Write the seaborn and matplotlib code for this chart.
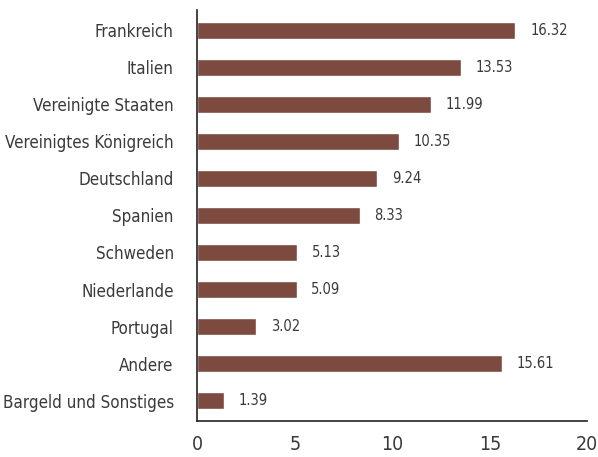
import pandas as pd
import matplotlib.pyplot as plt
import seaborn as sns

# data
countries = ['Frankreich', 'Italien', 'Vereinigte Staaten', 'Vereinigtes Königreich',
             'Deutschland', 'Spanien', 'Schweden', 'Niederlande', 'Portugal',
             'Andere', 'Bargeld und Sonstiges']
values = [16.32, 13.53, 11.99, 10.35, 9.24, 8.33, 5.13, 5.09, 3.02, 15.61, 1.39]
xticks = [0, 5, 10, 15, 20]

df = pd.DataFrame({'land': countries, 'wert': values})

sns.set_style('white')
plt.rcParams['font.family'] = ['DejaVu Sans']
plt.rcParams['font.stretch'] = 'condensed'
text_color = '#3a3a3a'

fig, ax = plt.subplots(figsize=(5.98, 4.57), dpi=100)
fig.subplots_adjust(left=0.33, right=0.982, top=0.978, bottom=0.079)

sns.barplot(data=df, x='wert', y='land', color='#7d4a40', width=0.46,
            saturation=1, ax=ax)

# value labels right of each bar
for i, v in enumerate(values):
    ax.text(v + 0.75, i, f'{v:.2f}', va='center', ha='left',
            fontsize=10.5, color=text_color)

ax.set_xlim(0, 20)
ax.set_ylim(10.55, -0.55)
ax.set_xticks(xticks)
ax.set_xticklabels([str(t) for t in xticks], fontsize=14, color=text_color)
ax.tick_params(axis='y', labelsize=12.2, labelcolor=text_color, length=0, pad=17)
ax.tick_params(axis='x', length=0, pad=10)
ax.set_xlabel('')
ax.set_ylabel('')

sns.despine(ax=ax, top=True, right=True)
for s in ['left', 'bottom']:
    ax.spines[s].set_color('#222222')
    ax.spines[s].set_linewidth(1.2)

plt.savefig('out.png', dpi=100)
